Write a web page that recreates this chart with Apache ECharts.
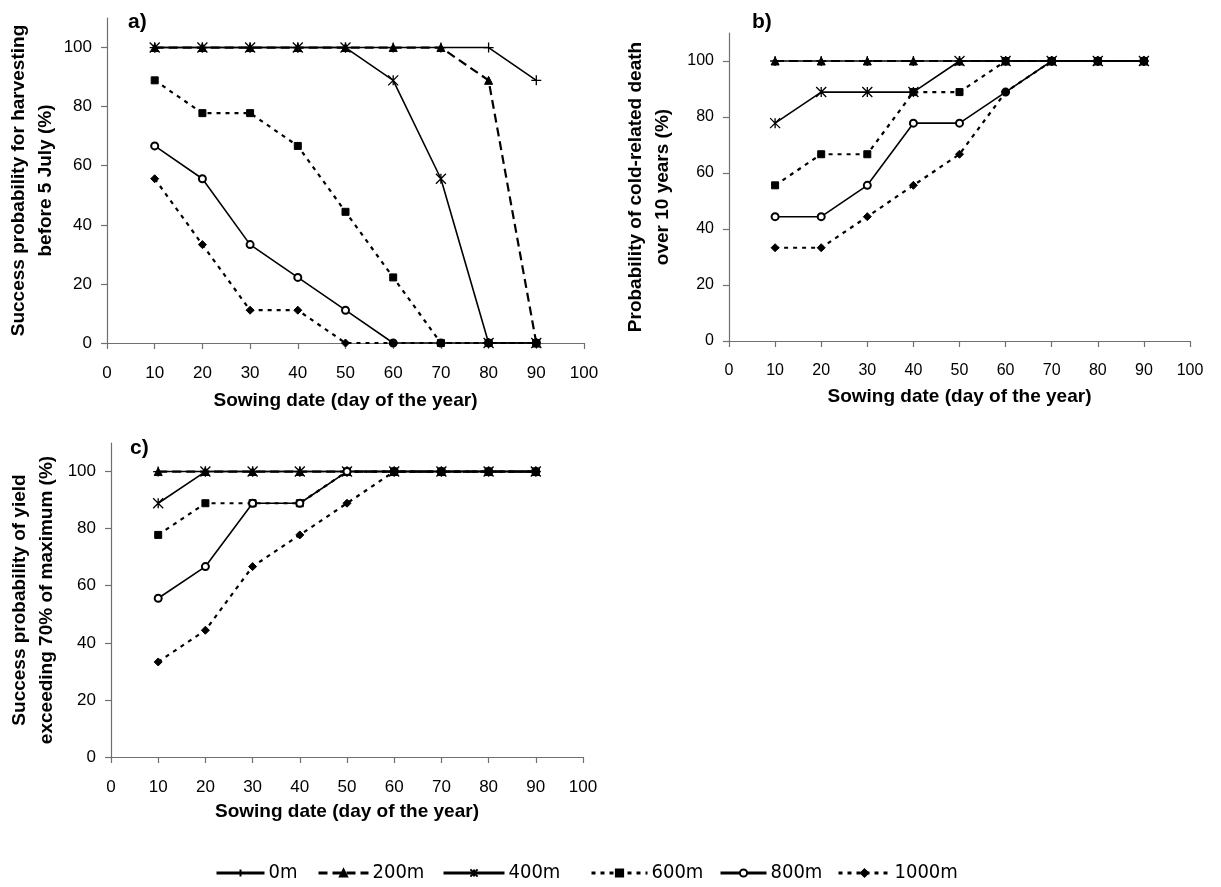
<!DOCTYPE html>
<html>
<head>
<meta charset="utf-8">
<script src="https://cdn.jsdelivr.net/npm/echarts@6/dist/echarts.min.js"></script>
<style>
  html, body { margin: 0; padding: 0; background: #fff; }
  #chart { width: 1221px; height: 887px; }
</style>
</head>
<body>
<div id="chart"></div>
<script>
// Sowing dates (day of the year) and elevation classes
const sowingDays = [10, 20, 30, 40, 50, 60, 70, 80, 90];
const elevations = ['0m', '200m', '400m', '600m', '800m', '1000m'];
const yTickValues = [0, 20, 40, 60, 80, 100];

// a) success probability for harvesting before 5 July (%)
const harvest0m    = [100, 100, 100, 100, 100, 100, 100, 100, 88.9];
const harvest200m  = [100, 100, 100, 100, 100, 100, 100, 88.9, 0];
const harvest400m  = [100, 100, 100, 100, 100, 88.9, 55.6, 0, 0];
const harvest600m  = [88.9, 77.8, 77.8, 66.7, 44.4, 22.2, 0, 0, 0];
const harvest800m  = [66.7, 55.6, 33.3, 22.2, 11.1, 0, 0, 0, 0];
const harvest1000m = [55.6, 33.3, 11.1, 11.1, 0, 0, 0, 0, 0];

// b) probability of cold-related death over 10 years (%)
const cold0m    = [100, 100, 100, 100, 100, 100, 100, 100, 100];
const cold200m  = [100, 100, 100, 100, 100, 100, 100, 100, 100];
const cold400m  = [77.8, 88.9, 88.9, 88.9, 100, 100, 100, 100, 100];
const cold600m  = [55.6, 66.7, 66.7, 88.9, 88.9, 100, 100, 100, 100];
const cold800m  = [44.4, 44.4, 55.6, 77.8, 77.8, 88.9, 100, 100, 100];
const cold1000m = [33.3, 33.3, 44.4, 55.6, 66.7, 88.9, 100, 100, 100];

// c) success probability of yield exceeding 70% of maximum (%)
const yield0m    = [100, 100, 100, 100, 100, 100, 100, 100, 100];
const yield200m  = [100, 100, 100, 100, 100, 100, 100, 100, 100];
const yield400m  = [88.9, 100, 100, 100, 100, 100, 100, 100, 100];
const yield600m  = [77.8, 88.9, 88.9, 88.9, 100, 100, 100, 100, 100];
const yield800m  = [55.6, 66.7, 88.9, 88.9, 100, 100, 100, 100, 100];
const yield1000m = [33.3, 44.4, 66.7, 77.8, 88.9, 100, 100, 100, 100];

const panelValues = [
  [harvest0m, harvest200m, harvest400m, harvest600m, harvest800m, harvest1000m],
  [cold0m, cold200m, cold400m, cold600m, cold800m, cold1000m],
  [yield0m, yield200m, yield400m, yield600m, yield800m, yield1000m]
];

const FONT = '"Liberation Sans", Arial, sans-serif';
const NARROW = '"DejaVu Sans Condensed", "Liberation Sans Narrow", "Arial Narrow", sans-serif';

// marker and line look for each elevation
const PLUS = 'path://M0,5L10,5M5,0L5,10';
const STAR = 'path://M0,0L10,10M10,0L0,10M5,0L5,10';
const styles = {
  '0m':    { symbol: PLUS, size: 10, line: { type: 'solid', width: 1.6 }, stroke: true },
  '200m':  { symbol: 'triangle', size: 8, line: { type: [9, 5], width: 2.2 } },
  '400m':  { symbol: STAR, size: 10, line: { type: 'solid', width: 1.6 }, stroke: true },
  '600m':  { symbol: 'rect', size: 7, line: { type: [4, 5], width: 2.2 } },
  '800m':  { symbol: 'emptyCircle', size: 7, line: { type: 'solid', width: 1.6 } },
  '1000m': { symbol: 'diamond', size: 8, line: { type: [4, 5], width: 2.2 } }
};

const grids = [
  { left: 107, top: 18, width: 477, height: 325 },
  { left: 729, top: 33, width: 461, height: 308 },
  { left: 111, top: 443, width: 472, height: 314 }
];
const yNames = [
  'Success probability for harvesting\nbefore 5 July (%)',
  'Probability of cold-related death\nover 10 years (%)',
  'Success probability of yield\nexceeding 70% of maximum (%)'
];
const yNameGaps = [47, 53, 51];
const xNameGaps = [48, 46, 45];
const panelLetters = ['a)', 'b)', 'c)'];
const letterPos = [[128, 12], [752, 12], [130, 438]];

const axisLineStyle = { color: '#6f6f6f', width: 1.2 };

const xAxes = grids.map((g, i) => ({
  gridIndex: i,
  type: 'value',
  min: 0, max: 100, interval: 10,
  name: 'Sowing date (day of the year)',
  nameLocation: 'middle',
  nameGap: xNameGaps[i],
  nameTextStyle: { fontFamily: FONT, fontWeight: 'bold', fontSize: 19, color: '#000' },
  axisLine: { show: true, onZero: false, lineStyle: axisLineStyle },
  axisTick: { show: true, inside: false, length: 6, lineStyle: axisLineStyle },
  axisLabel: { fontFamily: FONT, fontSize: i === 1 ? 16 : 17, color: '#000', margin: 22 },
  splitLine: { show: false }
}));

const yAxes = grids.map((g, i) => ({
  gridIndex: i,
  type: 'value',
  min: 0, max: 110,
  name: yNames[i],
  nameLocation: 'middle',
  nameGap: yNameGaps[i],
  nameTextStyle: { fontFamily: FONT, fontWeight: 'bold', fontSize: 19, color: '#000', lineHeight: 27 },
  axisLine: { show: true, lineStyle: axisLineStyle },
  axisTick: { show: true, inside: false, length: 6, lineStyle: axisLineStyle, customValues: yTickValues },
  axisLabel: { fontFamily: FONT, fontSize: i === 1 ? 16 : 17, color: '#000', margin: 15, customValues: yTickValues },
  splitLine: { show: false }
}));

const series = [];
panelValues.forEach((values, p) => {
  elevations.forEach((name, k) => {
    const st = styles[name];
    series.push({
      name: name,
      type: 'line',
      xAxisIndex: p,
      yAxisIndex: p,
      data: sowingDays.map((d, j) => [d, values[k][j]]),
      symbol: st.symbol,
      symbolSize: st.size,
      showAllSymbol: true,
      lineStyle: { color: '#000', type: st.line.type, width: st.line.width },
      itemStyle: st.stroke
        ? { color: '#000', borderColor: '#000', borderWidth: 1.3 }
        : { color: '#000', borderColor: '#000', borderWidth: 1 },
      emphasis: { disabled: true },
      animation: false
    });
  });
});

// one legend entry per elevation, laid out along the bottom
const legendLefts = [210, 312, 437, 585, 714, 832];
const legendWidths = [48, 50, 61, 56, 46, 52];
const legends = elevations.map((name, k) => ({
  data: [name],
  left: legendLefts[k],
  top: 858,
  orient: 'horizontal',
  itemWidth: legendWidths[k],
  itemHeight: 9,
  itemGap: 0,
  selectedMode: false,
  lineStyle: { width: 3 },
  textStyle: { fontFamily: NARROW, fontSize: 20, color: '#000', padding: [0, 0, 0, -1] }
}));

const titles = panelLetters.map((t, i) => ({
  text: t,
  left: letterPos[i][0],
  top: letterPos[i][1],
  padding: 0,
  textStyle: { fontFamily: FONT, fontWeight: 'bold', fontSize: 21, color: '#000' }
}));

const chart = echarts.init(document.getElementById('chart'), null, { renderer: 'canvas' });
chart.setOption({
  backgroundColor: '#fff',
  animation: false,
  title: titles,
  grid: grids,
  xAxis: xAxes,
  yAxis: yAxes,
  legend: legends,
  series: series
});
</script>
</body>
</html>
